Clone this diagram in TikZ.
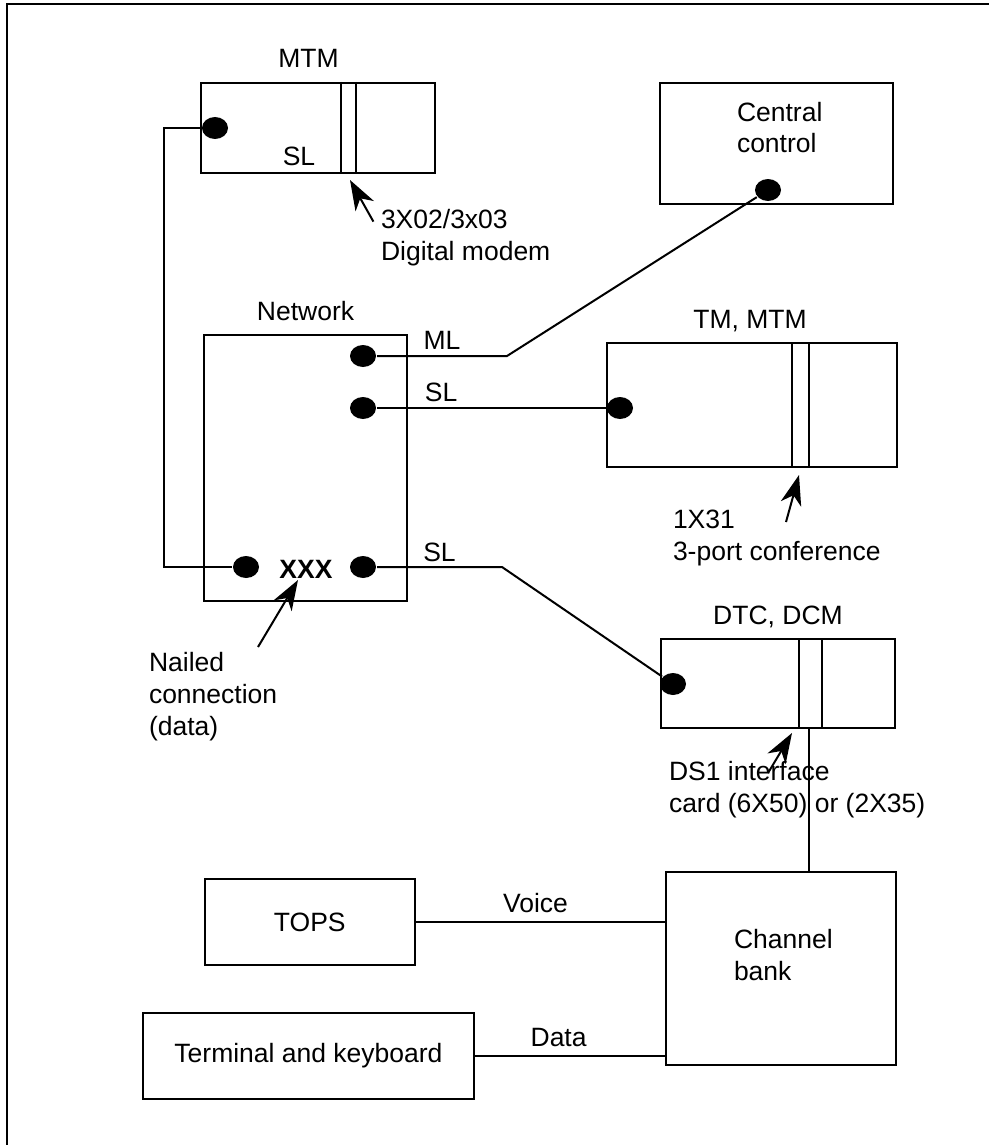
\documentclass[tikz,border=0pt]{standalone}
\usepackage{fontspec}
\setmainfont{Liberation Sans}
\usepackage{tikz}
\usetikzlibrary{arrows.meta,positioning,shapes.geometric}

\begin{document}
\begin{tikzpicture}[
  x=1pt,y=1pt,
  font=\fontsize{13.25}{16}\selectfont,
  line width=1pt,
  box/.style={draw,inner sep=0pt},
  port/.style={ellipse,fill,inner sep=0pt,minimum width=13pt,minimum height=11pt},
  lbl/.style={inner sep=0pt,text depth=0pt},
  txt/.style={inner sep=0pt,align=left,anchor=base west},
  pointer/.style={-{Stealth[length=15pt,width=10.5pt,inset=4.5pt]}},
]
\useasboundingbox (0,0) rectangle (494.5,-572.5);
\draw (3.5,-572.5) -- (3.5,-2) -- (494.5,-2);
% boxes
\node[box,minimum width=117pt,minimum height=45pt] (mtm) at (159,-64) {};
\node[box,minimum width=116.5pt,minimum height=60.5pt] (cc) at (388.25,-71.75) {};
\node[box,minimum width=101.5pt,minimum height=133pt] (net) at (152.75,-234) {};
\node[box,minimum width=145pt,minimum height=62pt] (tm) at (376,-202.5) {};
\node[box,minimum width=117pt,minimum height=44.5pt] (dtc) at (389,-341.75) {};
\node[box,minimum width=115pt,minimum height=96.5pt] (cb) at (390.5,-484.25) {};
\node[box,minimum width=105.25pt,minimum height=42.7pt] (tops) at (154.9,-461) {TOPS};
\node[box,minimum width=165.5pt,minimum height=43pt] (term) at (154.25,-528) {Terminal and keyboard};
% card slots
\draw (170.5,0 |- mtm.north) -- (170.5,0 |- mtm.south);
\draw (178,0 |- mtm.north) -- (178,0 |- mtm.south);
\draw (396,0 |- tm.north) -- (396,0 |- tm.south);
\draw (404.5,0 |- tm.north) -- (404.5,0 |- tm.south);
\draw (399.5,0 |- dtc.north) -- (399.5,0 |- dtc.south);
\draw (411,0 |- dtc.north) -- (411,0 |- dtc.south);
% titles
\node[lbl,above=6.5pt of mtm,xshift=-4.75pt] (mtmlbl) {MTM};
\node[lbl,above=6.5pt of net] (netlbl) {Network};
\node[lbl,above=6.5pt of tm,xshift=-1pt] (tmlbl) {TM, MTM};
\node[lbl,above=6.5pt of dtc] (dtclbl) {DTC, DCM};
\node[txt] (cctxt) at (368,-76.5) {Central\\control};
\node[txt] (cbtxt) at (366.5,-490) {Channel\\bank};
% ports
\node[port] (mtmdot) at (107.5,-64) {};
\node[port] (ccdot) at (384,-95) {};
\node[port] (mldot) at (181.5,-178) {};
\node[port] (sldot) at (181.5,-204) {};
\node[port] (nldot) at (123,-283.5) {};
\node[port] (nrdot) at (181.5,-283.5) {};
\node[port] (tmdot) at (310,-204) {};
\node[port] (dtcdot) at (336.5,-342) {};
\node[lbl,anchor=base] (mtmsl) at (149.5,-82.5) {SL};
\node[lbl,anchor=base,font=\fontsize{13.25}{16}\selectfont\bfseries] (nail) at (153,-289) {XXX};
% links
\coordinate (loop) at (82,-64);
\coordinate (mlbend) at (253.5,-178);
\coordinate (slbend) at (251,-283.5);
\draw (mtmdot) -- (loop) |- (nldot);
\draw (ccdot) -- (mlbend) -- node[lbl,above=3pt]{ML} (mldot);
\draw (sldot) -- node[lbl,above=3pt,pos=.28]{SL} (tmdot);
\draw (nrdot) -- node[lbl,above=2.5pt]{SL} (slbend) -- (dtcdot);
\draw (404.5,0 |- dtc.south) -- (404.5,0 |- cb.north);
\draw (tops.east) -- node[lbl,above=4.5pt,pos=.48]{Voice} (tops.east -| cb.west);
\draw (term.east) -- node[lbl,above=4.5pt,pos=.44]{Data} (term.east -| cb.west);
% pointers
\coordinate (modemtail) at (186.7,-110.8);
\coordinate (modemtip) at (175,-90);
\coordinate (conftail) at (393,-261);
\coordinate (conftip) at (399.5,-237.5);
\coordinate (ds1tail) at (384,-386.5);
\coordinate (ds1tip) at (396,-366.5);
\coordinate (nailtail) at (129,-323.5);
\coordinate (nailtip) at (149,-290);
\draw[pointer] (modemtail) -- (modemtip);
\draw[pointer] (conftail) -- (conftip);
\draw[pointer] (ds1tail) -- (ds1tip);
\draw[pointer] (nailtail) -- (nailtip);
\node[txt] (modemtxt) at (190,-130) {3X02/3x03\\Digital modem};
\node[txt] (conftxt) at (336,-280) {1X31\\3-port conference};
\node[txt] (ds1txt) at (334,-406) {DS1 interface\\card (6X50) or (2X35)};
\node[txt] (nailtxt) at (74,-367.5) {Nailed\\connection\\(data)};
\end{tikzpicture}
\end{document}
